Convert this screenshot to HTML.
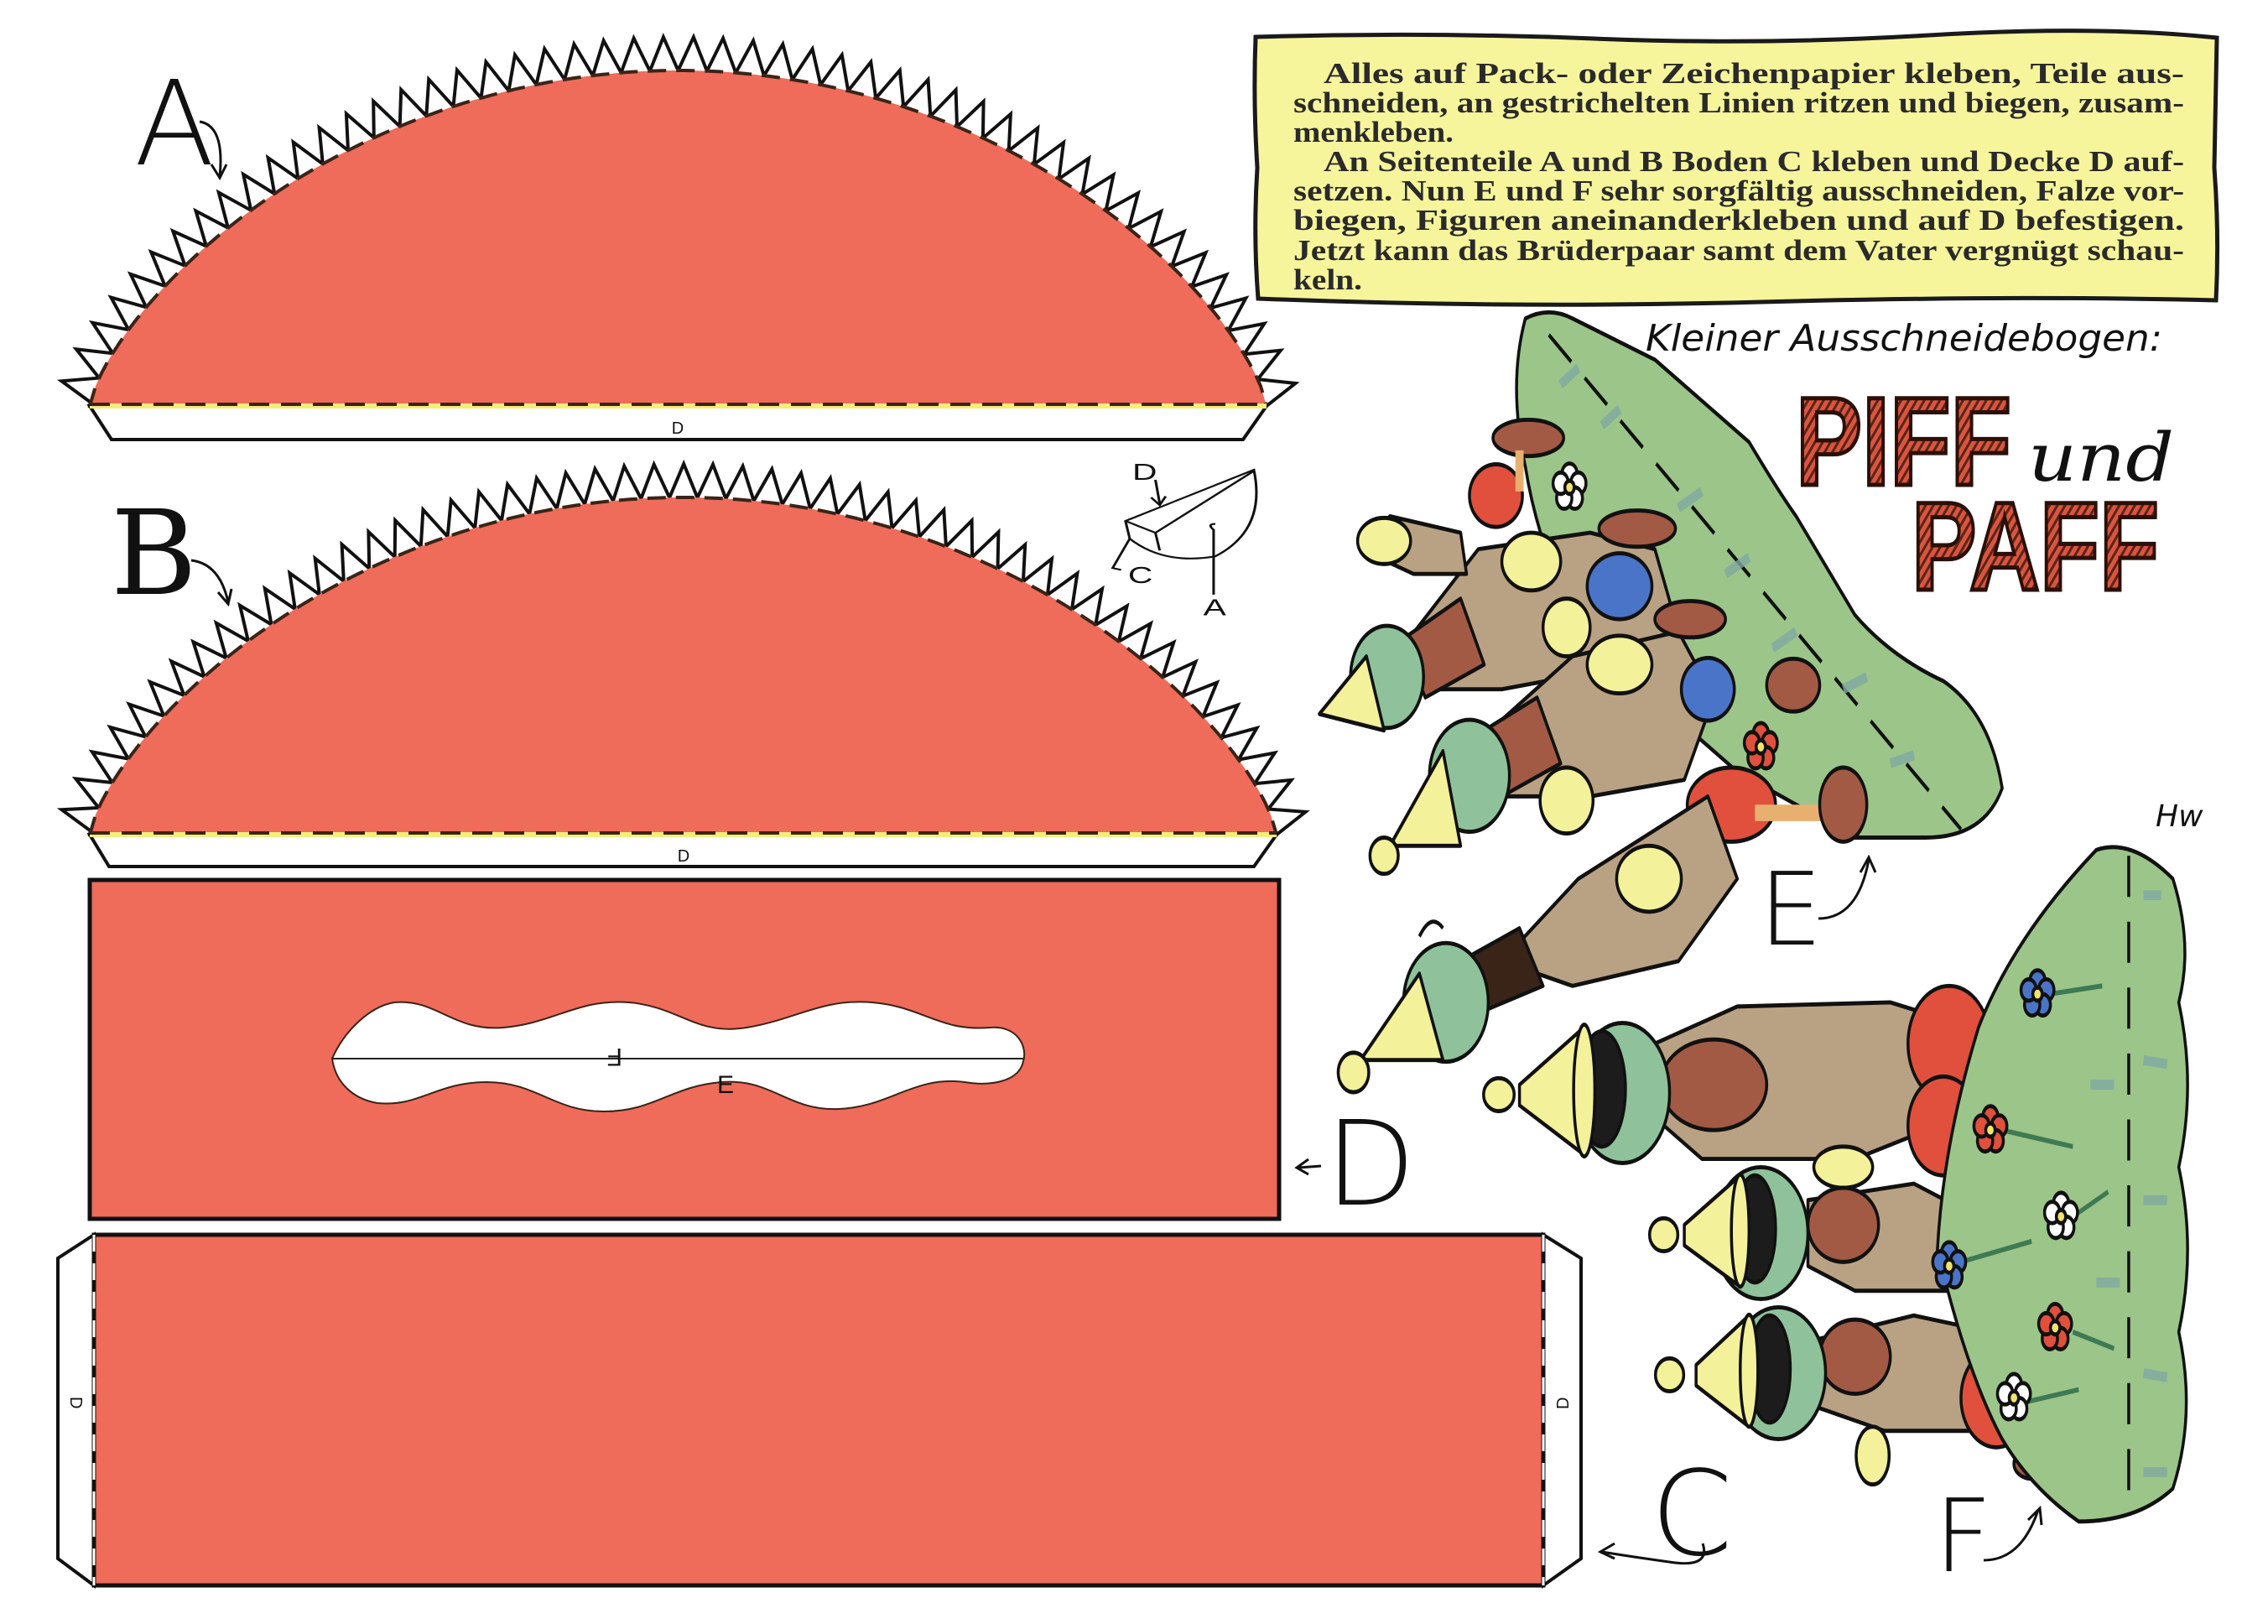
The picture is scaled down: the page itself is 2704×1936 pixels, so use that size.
<!DOCTYPE html>
<html><head><meta charset="utf-8">
<style>
html,body{margin:0;padding:0;background:#fff;}
svg{display:block;}
.t{font-family:"Liberation Serif",serif;font-size:35px;font-weight:bold;fill:#2a2a2a;}
.hand{font-family:"Liberation Sans",sans-serif;fill:#111;}
</style></head>
<body>
<svg id="s" width="2704" height="1936" viewBox="0 0 2704 1936" xmlns="http://www.w3.org/2000/svg">
<defs>
<g id="fl"><circle cx="0" cy="-16" r="13"/><circle cx="15" cy="-5" r="13"/><circle cx="9" cy="13" r="13"/><circle cx="-9" cy="13" r="13"/><circle cx="-15" cy="-5" r="13"/><circle cx="0" cy="0" r="8" fill="#f2e36a"/></g>
<pattern id="hatch" width="8" height="8" patternUnits="userSpaceOnUse" patternTransform="rotate(30)"><rect width="8" height="8" fill="#d9553f"/><rect width="3" height="8" fill="#5a2418"/></pattern>
</defs>

<!-- A -->
<g id="gA"></g>
<path d="M107,484 L1510,484 L1482,524 L133,524 Z" fill="#fff" stroke="#111" stroke-width="4"/>
<line x1="107" y1="484" x2="1510" y2="484" stroke="#f3ee7a" stroke-width="6"/>
<line x1="107" y1="482" x2="1510" y2="482" stroke="#3a2418" stroke-width="4" stroke-dasharray="24,14"/>
<text x="808" y="517" font-size="20" class="hand" text-anchor="middle">D</text>

<!-- B -->
<g id="gB"></g>
<path d="M107,995 L1522,995 L1495,1033 L130,1033 Z" fill="#fff" stroke="#111" stroke-width="4"/>
<line x1="107" y1="995" x2="1522" y2="995" stroke="#f3ee7a" stroke-width="6"/>
<line x1="107" y1="993" x2="1522" y2="993" stroke="#3a2418" stroke-width="4" stroke-dasharray="24,14"/>
<text x="815" y="1027" font-size="20" class="hand" text-anchor="middle">D</text>

<!-- labels A B -->
<text x="160" y="196" font-size="140" class="hand" style="font-family:'DejaVu Sans',sans-serif;font-weight:300">A</text>
<path d="M238,145 Q268,150 262,210 M252,196 L262,212 L270,196" fill="none" stroke="#111" stroke-width="3"/>
<text x="132" y="708" font-size="140" class="hand" style="font-family:'DejaVu Serif',serif">B</text>
<path d="M228,668 Q262,672 272,718 M260,706 L272,720 L276,702" fill="none" stroke="#111" stroke-width="3"/>

<!-- sketch -->
<g transform="scale(1.0204,0.7018)" fill="none" stroke="#111" stroke-width="3">
<path d="M1315,885 L1465,798 Q1480,900 1420,945 Q1360,960 1320,915 Z" fill="#fff"/>
<path d="M1315,885 L1350,905 L1465,800 M1350,905 L1355,935"/>
<path d="M1350,815 L1355,855 M1345,845 L1355,858 L1362,843"/>
<path d="M1320,915 L1300,965 L1310,968"/>
<path d="M1418,1010 L1418,900 Q1410,890 1420,890"/>
<text x="1323" y="815" font-size="40" fill="#111" stroke="none" class="hand">D</text>
<text x="1318" y="990" font-size="40" fill="#111" stroke="none" class="hand">C</text>
<text x="1406" y="1045" font-size="40" fill="#111" stroke="none" class="hand">A</text>
</g>

<!-- D rect -->
<rect x="107" y="1049" width="1418" height="404" fill="#ef6b5a" stroke="#111" stroke-width="5"/>
<path d="M396,1262 C410,1230 440,1200 470,1195 C520,1190 540,1230 600,1225 C660,1220 690,1190 750,1195 C810,1200 830,1235 890,1225 C950,1215 980,1190 1040,1195 C1100,1200 1120,1230 1180,1225 C1215,1222 1225,1250 1220,1265 C1215,1290 1180,1295 1150,1290 C1090,1282 1060,1320 1000,1322 C940,1325 920,1285 860,1290 C800,1295 780,1325 720,1325 C660,1325 640,1290 580,1290 C520,1290 500,1320 450,1315 C420,1310 400,1290 396,1262 Z" fill="#fff" stroke="#3a2418" stroke-width="2"/>
<line x1="396" y1="1262" x2="1220" y2="1262" stroke="#222" stroke-width="2"/>
<text x="722" y="1230" font-size="30" class="hand" transform="rotate(180 732 1240)">F</text>
<text x="855" y="1303" font-size="30" class="hand">E</text>
<text x="1580" y="1436" font-size="140" class="hand" style="font-family:'DejaVu Sans',sans-serif;font-weight:300">D</text>
<path d="M1575,1390 L1548,1392 M1560,1382 L1546,1392 L1560,1400" fill="none" stroke="#111" stroke-width="3"/>

<!-- C -->
<path d="M112,1472 L69,1500 L69,1858 L112,1890 Z" fill="#fff" stroke="#111" stroke-width="4"/>
<path d="M1840,1472 L1885,1500 L1885,1858 L1840,1890 Z" fill="#fff" stroke="#111" stroke-width="4"/>
<rect x="112" y="1472" width="1728" height="418" fill="#ef6b5a" stroke="#111" stroke-width="5"/>
<line x1="112" y1="1472" x2="112" y2="1890" stroke="#fff" stroke-width="3" stroke-dasharray="20,14"/>
<line x1="1840" y1="1472" x2="1840" y2="1890" stroke="#fff" stroke-width="3" stroke-dasharray="20,14"/>
<text x="0" y="0" font-size="20" class="hand" transform="translate(84,1665) rotate(90)">D</text>
<text x="0" y="0" font-size="20" class="hand" transform="translate(1870,1680) rotate(-90)">D</text>
<text x="1968" y="1853" font-size="140" class="hand" style="font-family:'DejaVu Sans',sans-serif;font-weight:300">C</text>
<path d="M2030,1840 Q2040,1870 1990,1862 Q1940,1855 1910,1850 M1925,1840 L1908,1850 L1925,1858" fill="none" stroke="#111" stroke-width="3"/>

<!-- Text box -->
<path d="M1497,44 Q1700,38 1900,46 T2300,42 T2643,45 L2640,200 Q2646,280 2642,358 Q2400,352 2100,360 T1500,356 Q1494,280 1499,200 Q1494,120 1497,44 Z" fill="#f7f59c" stroke="#1a1a1a" stroke-width="5"/>
<g class="t">
<text x="1578" y="99" textLength="1026" lengthAdjust="spacingAndGlyphs">Alles auf Pack- oder Zeichenpapier kleben, Teile aus-</text>
<text x="1542" y="134" textLength="1062" lengthAdjust="spacingAndGlyphs">schneiden, an gestrichelten Linien ritzen und biegen, zusam-</text>
<text x="1542" y="169" textLength="191" lengthAdjust="spacingAndGlyphs">menkleben.</text>
<text x="1578" y="204" textLength="1026" lengthAdjust="spacingAndGlyphs">An Seitenteile A und B Boden C kleben und Decke D auf-</text>
<text x="1542" y="239" textLength="1062" lengthAdjust="spacingAndGlyphs">setzen. Nun E und F sehr sorgfältig ausschneiden, Falze vor-</text>
<text x="1542" y="274" textLength="1062" lengthAdjust="spacingAndGlyphs">biegen, Figuren aneinanderkleben und auf D befestigen.</text>
<text x="1542" y="310" textLength="1062" lengthAdjust="spacingAndGlyphs">Jetzt kann das Brüderpaar samt dem Vater vergnügt schau-</text>
<text x="1542" y="345" textLength="82" lengthAdjust="spacingAndGlyphs">keln.</text>
</g>

<!-- Title -->
<text x="1962" y="418" font-size="44" textLength="616" lengthAdjust="spacingAndGlyphs" style="font-family:'DejaVu Sans',sans-serif;font-style:italic" fill="#111">Kleiner Ausschneidebogen:</text>
<text x="2141" y="578" font-size="150" textLength="257" lengthAdjust="spacingAndGlyphs" style="font-family:'Liberation Sans',sans-serif;font-weight:bold" fill="url(#hatch)" stroke="#2a1008" stroke-width="5">PIFF</text>
<text x="2418" y="573" font-size="80" textLength="174" lengthAdjust="spacingAndGlyphs" style="font-family:'DejaVu Serif',serif;font-style:italic" fill="#111">und</text>
<text x="2279" y="703" font-size="150" textLength="295" lengthAdjust="spacingAndGlyphs" style="font-family:'Liberation Sans',sans-serif;font-weight:bold" fill="url(#hatch)" stroke="#2a1008" stroke-width="5">PAFF</text>

<!-- Figures, in zoom-space coordinates -->
<g transform="translate(1580,360) scale(0.7018,0.9823)" stroke="#111" stroke-width="5" stroke-linejoin="round">
 <path d="M340,20 Q380,5 420,20 L560,70 Q640,120 720,170 Q770,230 800,260 Q850,320 900,380 Q960,430 1050,460 Q1130,500 1150,590 Q1120,650 1020,650 L900,650 Q800,610 700,570 L540,470 Q460,420 420,380 Q360,290 340,200 Q310,100 340,20 Z" fill="#9cc58a"/>
 <path d="M380,40 L1080,640" stroke-dasharray="50,30" fill="none"/>
 <g fill="none" stroke="#7fa9a0" stroke-width="12" opacity="0.8">
  <path d="M400,100 l30,-20 M470,150 l30,-20 M600,250 l40,-20 M680,330 l40,-20 M760,420 l40,-20 M880,470 l40,-15 M960,560 l40,-10"/>
 </g>
 <ellipse cx="290" cy="235" rx="45" ry="38" fill="#e0503c"/>
 <ellipse cx="345" cy="165" rx="60" ry="22" fill="#a25a44"/>
 <path d="M330,180 L330,230" stroke="#e8b070" stroke-width="14"/>
 <path d="M130,420 L260,300 L450,280 L560,300 L600,400 L450,450 L300,470 L180,470 Z" fill="#b9a283"/>
 <path d="M60,300 L110,260 L230,280 L240,330 L150,330 Z" fill="#b9a283"/>
 <path d="M130,410 L230,360 L270,440 L170,480 Z" fill="#a25a44"/>
 <ellipse cx="500" cy="345" rx="55" ry="40" fill="#4a74c8"/>
 <ellipse cx="530" cy="275" rx="65" ry="22" fill="#a25a44"/>
 <ellipse cx="690" cy="610" rx="75" ry="45" fill="#e0503c"/>
 <path d="M280,520 L420,430 L600,400 L660,480 L610,580 L450,600 L300,600 Z" fill="#b9a283"/>
 <path d="M270,520 L360,480 L400,560 L300,600 Z" fill="#a25a44"/>
 <ellipse cx="650" cy="470" rx="45" ry="38" fill="#4a74c8"/>
 <ellipse cx="620" cy="385" rx="60" ry="22" fill="#a25a44"/>
 <ellipse cx="795" cy="465" rx="45" ry="32" fill="#a25a44"/>
 <path d="M300,800 L430,700 L650,600 L700,700 L600,800 L420,830 Z" fill="#b9a283"/>
 <path d="M230,800 L330,760 L370,830 L270,860 Z" fill="#3a2418"/>
 <path d="M730,620 L850,620" stroke="#e8b070" stroke-width="20"/>
 <ellipse cx="880" cy="610" rx="40" ry="45" fill="#a25a44"/>
 <circle cx="105" cy="455" r="62" fill="#8fc29a"/>
 <path d="M70,430 L-10,500 L100,520 Z" fill="#f3f19a"/>
 <circle cx="245" cy="575" r="68" fill="#8fc29a"/>
 <path d="M200,545 L110,660 L230,660 Z" fill="#f3f19a"/>
 <ellipse cx="100" cy="672" rx="24" ry="22" fill="#f3f19a"/>
 <circle cx="205" cy="850" r="72" fill="#8fc29a"/>
 <path d="M160,815 L60,920 L200,920 Z" fill="#f3f19a"/>
 <ellipse cx="48" cy="935" rx="26" ry="24" fill="#f3f19a"/>
 <path d="M160,770 Q180,740 200,760" fill="none"/>
 <g fill="#f3f19a">
  <ellipse cx="100" cy="290" rx="45" ry="28"/><ellipse cx="350" cy="315" rx="50" ry="35"/>
  <ellipse cx="410" cy="395" rx="40" ry="35"/><ellipse cx="500" cy="440" rx="55" ry="35"/>
  <ellipse cx="410" cy="605" rx="45" ry="40"/><ellipse cx="550" cy="700" rx="55" ry="40"/>
 </g>
 <use href="#fl" x="415" y="225" fill="#fff"/>
 <use href="#fl" x="740" y="540" fill="#e0503c"/>

 <path d="M560,900 L700,855 L960,850 L1050,870 L1040,1000 L900,1040 L640,1040 L560,990 Z" fill="#b9a283"/>
 <ellipse cx="660" cy="950" rx="90" ry="55" fill="#a25a44"/>
 <ellipse cx="1060" cy="900" rx="70" ry="70" fill="#e0503c"/>
 <ellipse cx="1050" cy="1000" rx="60" ry="60" fill="#e0503c"/>
 <path d="M820,1090 L1000,1070 L1080,1100 L1070,1200 L900,1200 L820,1170 Z" fill="#b9a283"/>
 <ellipse cx="880" cy="1120" rx="60" ry="45" fill="#a25a44"/>
 <path d="M830,1260 L1000,1230 L1130,1250 L1120,1370 L950,1370 L830,1340 Z" fill="#b9a283"/>
 <ellipse cx="900" cy="1280" rx="60" ry="45" fill="#a25a44"/>
 <ellipse cx="1140" cy="1330" rx="60" ry="60" fill="#e0503c"/>
 <ellipse cx="930" cy="1400" rx="28" ry="35" fill="#f3f19a"/>
 <ellipse cx="880" cy="1050" rx="50" ry="25" fill="#f3f19a"/>
 <ellipse cx="1200" cy="1410" rx="30" ry="18" fill="#a25a44"/>
 <ellipse cx="505" cy="960" rx="80" ry="85" fill="#8fc29a"/>
 <ellipse cx="470" cy="955" rx="40" ry="70" fill="#1c1c1c"/>
 <path d="M440,880 L330,950 L330,975 L440,1035 Z" fill="#f3f19a"/>
 <ellipse cx="440" cy="957" rx="18" ry="80" fill="#f3f19a"/>
 <ellipse cx="295" cy="962" rx="26" ry="20" fill="#f3f19a"/>
 <ellipse cx="740" cy="1130" rx="80" ry="80" fill="#8fc29a"/>
 <ellipse cx="730" cy="1125" rx="35" ry="65" fill="#1c1c1c"/>
 <path d="M705,1060 L610,1120 L610,1145 L705,1195 Z" fill="#f3f19a"/>
 <ellipse cx="705" cy="1127" rx="15" ry="68" fill="#f3f19a"/>
 <ellipse cx="575" cy="1132" rx="24" ry="20" fill="#f3f19a"/>
 <ellipse cx="770" cy="1300" rx="80" ry="80" fill="#8fc29a"/>
 <ellipse cx="755" cy="1295" rx="35" ry="65" fill="#1c1c1c"/>
 <path d="M720,1230 L630,1290 L630,1315 L720,1365 Z" fill="#f3f19a"/>
 <ellipse cx="720" cy="1297" rx="15" ry="68" fill="#f3f19a"/>
 <ellipse cx="585" cy="1302" rx="24" ry="20" fill="#f3f19a"/>
 <path d="M1310,665 Q1370,650 1440,700 Q1475,780 1450,850 Q1480,950 1450,1050 Q1480,1150 1450,1250 Q1480,1350 1440,1440 Q1380,1480 1280,1480 Q1200,1440 1150,1380 Q1090,1300 1040,1150 Q1050,1020 1110,880 Q1170,770 1310,665 Z" fill="#9cc58a"/>
 <path d="M1365,672 L1365,1470" stroke-dasharray="50,30" fill="none"/>
 <g fill="none" stroke="#7fa9a0" stroke-width="12" opacity="0.8">
  <path d="M1390,720 l30,0 M1390,920 l40,5 M1300,950 l40,0 M1390,1090 l40,0 M1310,1190 l40,0 M1390,1300 l40,5 M1390,1420 l40,0"/>
 </g>
 <g fill="none" stroke="#3e7a52" stroke-width="6">
  <path d="M1230,840 L1320,830 M1150,1005 L1270,1025 M1270,1110 L1330,1080 M1080,1165 L1200,1140 M1270,1250 L1340,1270 M1190,1335 L1280,1320"/>
 </g>
 <use href="#fl" x="1210" y="840" fill="#4a74c8"/>
 <use href="#fl" x="1130" y="1005" fill="#e0503c"/>
 <use href="#fl" x="1250" y="1110" fill="#fff"/>
 <use href="#fl" x="1060" y="1170" fill="#4a74c8"/>
 <use href="#fl" x="1240" y="1245" fill="#e0503c"/>
 <use href="#fl" x="1170" y="1330" fill="#fff"/>
</g>

<text x="2097" y="1126" font-size="120" class="hand" style="font-family:'DejaVu Sans',sans-serif;font-weight:300">E</text>
<path d="M2168,1095 Q2215,1095 2228,1025 M2218,1040 L2228,1022 L2236,1040" fill="none" stroke="#111" stroke-width="3"/>
<text x="2306" y="1873" font-size="120" class="hand" style="font-family:'DejaVu Sans',sans-serif;font-weight:300">F</text>
<path d="M2365,1860 Q2410,1860 2430,1800 M2418,1812 L2432,1798 L2434,1818" fill="none" stroke="#111" stroke-width="3"/>
<text x="2570" y="985" font-size="36" style="font-family:'DejaVu Sans',sans-serif;font-style:italic" fill="#111">Hw</text>
</svg>
<script>
(function(){
 var NS="http://www.w3.org/2000/svg";
 function semi(gid,x0,x1,cy,top){
  var cx=(x0+x1)/2, rx=(x1-x0)/2, ry=cy-top, N=2000, P=0.72, pts=[], L=[0];
  function f(u){return [cx+rx*u, cy-ry*Math.pow(Math.max(0,1-u*u),P)];}
  for(var i=0;i<=N;i++){var u=-1+2*i/N;var q=f(u);q.push(u);pts.push(q);
   if(i>0){var a=pts[i-1],b=pts[i];L.push(L[i-1]+Math.hypot(b[0]-a[0],b[1]-a[1]));}}
  var tot=L[N], w=34, h=40, n=Math.round(tot/w); w=tot/n;
  function at(s){for(var i=1;i<=N;i++){if(L[i]>=s)return [pts[i],i];}return [pts[N],N];}
  var d="M"+x0+","+cy, poly="M"+x0+","+cy;
  for(var k=0;k<n;k++){
   var a=at(k*w)[0], b=at((k+1)*w)[0], mm=at((k+0.5)*w), m=mm[0], j=mm[1];
   var p1=pts[Math.max(0,j-3)], p2=pts[Math.min(N,j+3)];
   var tx=p2[0]-p1[0], ty=p2[1]-p1[1], l=Math.hypot(tx,ty); tx/=l; ty/=l;
   var nx=ty, ny=-tx; if(ny>-0.3){ny=-0.3;var ll=Math.hypot(nx,ny);nx/=ll;ny/=ll;}
   d+=" L"+a[0].toFixed(1)+","+a[1].toFixed(1)+" L"+(m[0]+nx*h).toFixed(1)+","+(m[1]+ny*h).toFixed(1)+" L"+b[0].toFixed(1)+","+b[1].toFixed(1);
  }
  for(var i=0;i<=N;i+=10){poly+=" L"+pts[i][0].toFixed(1)+","+pts[i][1].toFixed(1);}
  var g=document.getElementById(gid);
  var p=document.createElementNS(NS,"path");p.setAttribute("d",d+" Z");p.setAttribute("fill","#fff");p.setAttribute("stroke","#111");p.setAttribute("stroke-width","4");g.appendChild(p);
  var e=document.createElementNS(NS,"path");e.setAttribute("d",poly+" Z");e.setAttribute("fill","#ef6b5a");g.appendChild(e);
  var e2=document.createElementNS(NS,"path");e2.setAttribute("d",poly);
  e2.setAttribute("fill","none");e2.setAttribute("stroke","#3a2418");e2.setAttribute("stroke-width","4");e2.setAttribute("stroke-dasharray","22,12");g.appendChild(e2);
 }
 semi("gA",107,1510,484,84);
 semi("gB",107,1522,995,593);
})();
</script>
</body></html>
